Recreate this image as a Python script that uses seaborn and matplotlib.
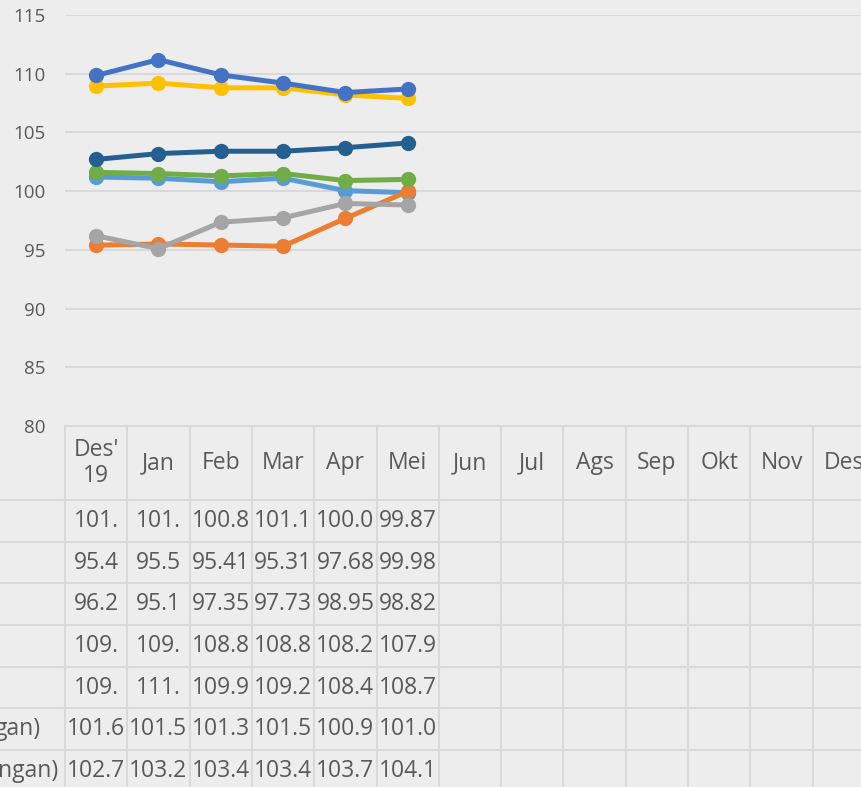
import matplotlib
matplotlib.use("Agg")
import matplotlib.pyplot as plt
import seaborn as sns
import pandas as pd
from matplotlib.transforms import blended_transform_factory

# ---------------- data ----------------
months = ["Des'\n19", "Jan", "Feb", "Mar", "Apr", "Mei", "Jun", "Jul",
          "Ags", "Sep", "Okt", "Nov", "Des"]
series_ids = ["s1", "s2", "s3", "s4", "s5", "s6", "s7"]
row_labels = ["", "", "", "", "", "gan)", "ngan)"]

s1_values = [101.2, 101.1, 100.8, 101.1, 100.04, 99.87]
s2_values = [95.4, 95.5, 95.41, 95.31, 97.68, 99.98]
s3_values = [96.2, 95.1, 97.35, 97.73, 98.95, 98.82]
s4_values = [108.95, 109.2, 108.8, 108.8, 108.2, 107.9]
s5_values = [109.85, 111.2, 109.9, 109.2, 108.4, 108.7]
s6_values = [101.6, 101.5, 101.3, 101.5, 100.9, 101.0]
s7_values = [102.7, 103.2, 103.4, 103.4, 103.7, 104.1]

s1_text = ["101.", "101.", "100.8", "101.1", "100.0", "99.87"]
s2_text = ["95.4", "95.5", "95.41", "95.31", "97.68", "99.98"]
s3_text = ["96.2", "95.1", "97.35", "97.73", "98.95", "98.82"]
s4_text = ["109.", "109.", "108.8", "108.8", "108.2", "107.9"]
s5_text = ["109.", "111.", "109.9", "109.2", "108.4", "108.7"]
s6_text = ["101.6", "101.5", "101.3", "101.5", "100.9", "101.0"]
s7_text = ["102.7", "103.2", "103.4", "103.4", "103.7", "104.1"]

colors = ["#5B9BD5", "#ED7D31", "#A5A5A5", "#FFC000", "#4472C4", "#70AD47", "#255E91"]
y_ticks = [80, 85, 90, 95, 100, 105, 110, 115]

all_values = [s1_values, s2_values, s3_values, s4_values, s5_values, s6_values, s7_values]
all_text = [s1_text, s2_text, s3_text, s4_text, s5_text, s6_text, s7_text]

rows = []
for sid, vals in zip(series_ids, all_values):
    for i, v in enumerate(vals):
        rows.append({"pos": i, "value": v, "series": sid})
df = pd.DataFrame(rows)

# ---------------- style ----------------
sns.set_theme(style="white")
bg = "#EDEDED"
grid_c = "#D9D9D9"
txt_c = "#595959"
plt.rcParams["font.family"] = ["Open Sans", "DejaVu Sans"]

W, H = 862, 787
fig = plt.figure(figsize=(W / 100, H / 100), dpi=100)
fig.patch.set_facecolor(bg)

def fy(p):
    return 1 - p / H

def fx(p):
    return p / W

ax_left, ax_right = 65, 875
ax_top, ax_bot = 15, 426
ax = fig.add_axes([fx(ax_left), fy(ax_bot), fx(ax_right - ax_left), (ax_bot - ax_top) / H])
ax.set_facecolor(bg)

sns.lineplot(data=df, x="pos", y="value", hue="series", palette=colors,
             hue_order=series_ids, marker="o", markersize=11, markeredgewidth=0,
             linewidth=3.6, sort=False, legend=False, ax=ax, zorder=3)

ax.set_xlim(-0.5, len(months) - 0.5)
ax.set_ylim(80, 115)
ax.set_yticks(y_ticks)
ax.set_yticklabels([str(t) for t in y_ticks])
ax.set_xticks([])
ax.set_xlabel("")
ax.set_ylabel("")
ax.tick_params(axis="y", length=0, pad=14, labelsize=13.5, labelcolor=txt_c)
for s in ax.spines.values():
    s.set_visible(False)
ax.yaxis.grid(True, color=grid_c, linewidth=1.5)
ax.set_axisbelow(True)

# ---------------- data table ----------------
bt = blended_transform_factory(ax.transData, fig.transFigure)
header_bot = 500
row_h = 41.67
n_rows = len(series_ids)
row_lines = [header_bot + k * row_h for k in range(n_rows + 1)]

# top line of header
ax.plot([-0.5, len(months) - 0.5], [fy(ax_bot), fy(ax_bot)], transform=bt,
        color=grid_c, lw=1.5, clip_on=False)
# horizontal lines of rows, from the figure edge
for yl in row_lines[:-1]:
    fig.add_artist(plt.Line2D([0, 1.02], [fy(yl), fy(yl)], transform=fig.transFigure,
                              color=grid_c, lw=1.5))
# vertical column lines
for i in range(len(months) + 1):
    ax.plot([i - 0.5, i - 0.5], [fy(ax_bot), fy(H + 10)], transform=bt,
            color=grid_c, lw=1.5, clip_on=False)

# header labels
for i, m in enumerate(months):
    ax.text(i, fy(463), m, transform=bt, ha="center", va="center",
            fontsize=16.5, color=txt_c, linespacing=1.15)

# cell values
for r, texts in enumerate(all_text):
    yc = header_bot + (r + 0.5) * row_h
    for i, t in enumerate(texts):
        ax.text(i, fy(yc), t, transform=bt, ha="center", va="center",
                fontsize=16.5, color=txt_c)

# visible part of row headers
label_right = {5: 41, 6: 58}
for r, lab in enumerate(row_labels):
    if lab:
        yc = header_bot + (r + 0.5) * row_h
        fig.text(fx(label_right[r]), fy(yc), lab, ha="right", va="center",
                 fontsize=16.5, color=txt_c)

fig.savefig("out.png", dpi=100, facecolor=bg)
